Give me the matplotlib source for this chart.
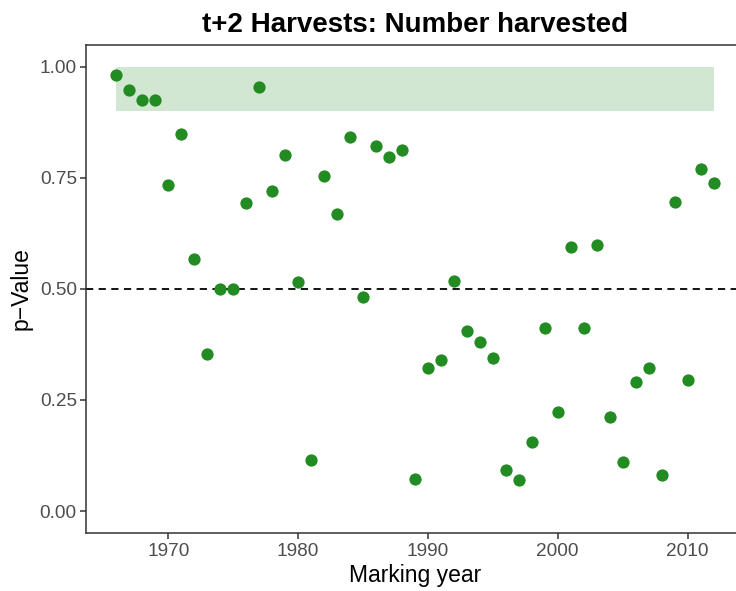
import matplotlib.pyplot as plt
import numpy as np

plt.rcParams['font.family'] = ['Liberation Sans', 'DejaVu Sans']

# p-values per marking year (t+2 harvests, number harvested)
years = np.arange(1966, 2013)
p_values = [0.982, 0.948, 0.925, 0.925, 0.734, 0.849, 0.567, 0.354, 0.499, 0.501,
            0.693, 0.955, 0.720, 0.801, 0.515, 0.115, 0.754, 0.668, 0.842, 0.483,
            0.822, 0.797, 0.813, 0.072, 0.321, 0.339, 0.519, 0.406, 0.381, 0.345,
            0.093, 0.070, 0.156, 0.413, 0.223, 0.594, 0.413, 0.600, 0.212, 0.111,
            0.291, 0.323, 0.081, 0.695, 0.296, 0.770, 0.738]

# highlighted band of high p-values
band_years = [1966, 2012]
band_range = [0.9, 1.0]

fig = plt.figure(figsize=(7.36, 5.91), dpi=100)
ax = fig.add_axes([0.1175, 0.0978, 0.8925, 0.8264])

ax.fill_between(band_years, band_range[0], band_range[1],
                color='#228B22', alpha=0.2, linewidth=0, zorder=1)
ax.axhline(0.5, color='black', linestyle=(0, (4, 3)), linewidth=1.3, zorder=2)
ax.scatter(years, p_values, s=78, color='#228B22', linewidths=0, zorder=3)

ax.set_xlim(1963.7, 2014.3)
ax.set_ylim(-0.05, 1.05)
ax.set_xticks([1970, 1980, 1990, 2000, 2010])
ax.set_yticks([0, 0.25, 0.5, 0.75, 1.0])
ax.set_yticklabels(['0.00', '0.25', '0.50', '0.75', '1.00'])

for side in ax.spines.values():
    side.set_color('#333333')
    side.set_linewidth(1.1)
ax.tick_params(length=4, width=1.1, color='#333333', labelcolor='#4D4D4D',
               labelsize=13.7, pad=3)

ax.set_xlabel('Marking year', fontsize=16.5, labelpad=3)
ax.set_ylabel('p\u2212Value', fontsize=16.5, labelpad=5)
ax.set_title('t+2 Harvests: Number harvested', fontsize=20,
             fontweight='bold', pad=9)

fig.savefig('out.png', dpi=100)
